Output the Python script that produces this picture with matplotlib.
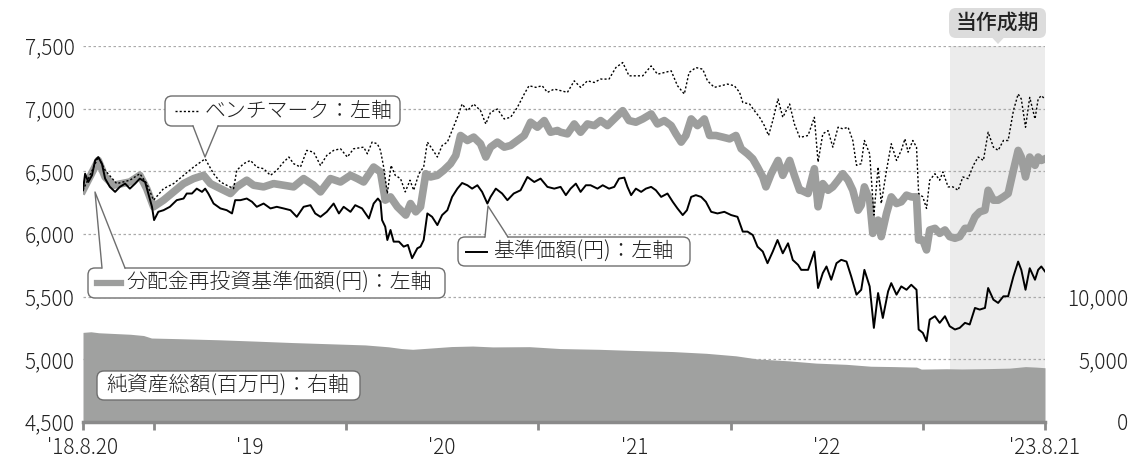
import matplotlib.pyplot as plt
import matplotlib.ticker as mticker
from matplotlib.patches import FancyBboxPatch, Polygon
from matplotlib.lines import Line2D
import pandas as pd

plt.rcParams['font.family'] = ['Noto Sans CJK JP', 'DejaVu Sans']
plt.rcParams['font.weight'] = 'light'

START = pd.Timestamp('2018-08-20')
END = pd.Timestamp('2023-08-21')
PERIOD_START = pd.Timestamp('2023-02-21')

# 基準価額 (days since START, yen)
nav_days = [0, 4, 10, 17, 23, 29, 36, 42, 51, 61, 70, 80, 89, 99, 108, 118, 124, 131, 135, 143,
            153, 165, 178, 191, 197, 207, 216, 226, 232, 238, 248, 261, 273, 283, 289, 299, 311,
            321, 330, 343, 356, 368, 381, 394, 406, 419, 432, 441, 451,
            463, 476, 486, 495, 508, 517, 530, 543, 552, 560, 565, 568, 574, 578, 584, 590, 600,
            609, 617, 625, 635, 641, 647, 654, 663, 673, 682, 692, 701, 711, 720, 730, 739, 749,
            758, 768, 774, 784, 796, 806, 818, 831, 844, 857, 869, 882, 895,
            907, 917, 926, 936, 945, 955, 964, 977, 987, 999, 1009, 1018, 1028, 1034, 1041, 1050,
            1060, 1069, 1079, 1088, 1098, 1110, 1120, 1129, 1139, 1147, 1155, 1164, 1174, 1183,
            1193, 1205, 1218, 1231, 1243, 1253, 1262, 1272, 1281, 1291, 1300, 1310, 1319, 1329,
            1339, 1348, 1358,
            1364, 1377, 1389, 1396, 1405, 1412, 1421, 1431, 1440, 1450, 1459, 1469, 1478, 1484,
            1494, 1502, 1510, 1519, 1529, 1535, 1545, 1554, 1564, 1573, 1583, 1587, 1595, 1602,
            1608, 1618, 1627, 1637, 1646, 1656, 1665, 1675, 1684, 1694, 1703, 1713, 1719, 1729,
            1738, 1748, 1757, 1767, 1776, 1782, 1790, 1798, 1808, 1814, 1820, 1827]
nav_yen = [6349, 6481, 6415, 6468, 6587, 6614, 6560, 6442, 6376, 6336, 6376, 6402, 6362, 6402, 6442,
           6415, 6323, 6217, 6111, 6177, 6190, 6217, 6270, 6283, 6323, 6323, 6362, 6336, 6362, 6323,
           6243, 6204, 6190, 6164, 6270, 6270, 6283, 6257, 6217, 6243, 6204, 6217, 6204, 6190, 6137,
           6217, 6230, 6164, 6137,
           6177, 6243, 6164, 6217, 6177, 6230, 6204, 6124, 6243, 6283, 6257, 6111, 6058, 5952, 6032,
           5939, 5939, 5899, 5913, 5807, 5886, 5899, 5952, 6164, 6137, 6071, 6151, 6190, 6296, 6362,
           6407, 6389, 6362, 6389, 6336, 6243, 6296, 6362, 6323, 6270, 6323, 6349, 6455, 6415, 6442,
           6376, 6362,
           6376, 6310, 6362, 6402, 6336, 6389, 6389, 6362, 6389, 6362, 6376, 6442, 6450, 6376, 6310,
           6362, 6336, 6362, 6376, 6349, 6296, 6323, 6257, 6204, 6151, 6190, 6296, 6310, 6296, 6257,
           6177, 6164, 6177, 6151, 6137, 6019, 6019, 5992, 5899, 5860, 5767, 5860, 5952, 5846, 5926,
           5793, 5754,
           5714, 5714, 5860, 5569, 5688, 5741, 5635, 5767, 5794, 5780, 5661, 5516, 5555, 5714, 5582,
           5251, 5529, 5330, 5542, 5608, 5516, 5582, 5555, 5595, 5555, 5238, 5211, 5145, 5317, 5344,
           5291, 5344, 5264, 5238, 5251, 5291, 5278, 5410, 5397, 5410, 5569, 5476, 5450, 5503, 5503,
           5661, 5780, 5714, 5555, 5727, 5635, 5714, 5741, 5701]

# 分配金再投資基準価額 (days since START, yen)
reinv_days = [0, 29, 42, 58, 89, 108, 121, 134, 153, 172, 191, 210, 229, 242, 261, 280, 292, 311,
              324, 343, 362, 381, 400, 419, 438, 451,
              470, 489, 508, 521, 533, 552, 565, 574, 584, 597, 613, 622, 632, 641, 651, 660, 673,
              685, 698, 708, 717, 730, 742, 755, 765, 774, 787, 800, 812, 825, 838, 850, 863, 876,
              888, 901,
              907, 920, 933, 945, 958, 971, 983, 996, 1009, 1025, 1037, 1050, 1063, 1079, 1091,
              1104, 1117, 1126, 1136, 1145, 1155, 1167, 1180, 1190, 1202, 1215, 1228, 1240, 1250,
              1262, 1272, 1281, 1291, 1297, 1307, 1320, 1329, 1342, 1351, 1361,
              1364, 1377, 1389, 1396, 1405, 1415, 1424, 1434, 1443, 1453, 1462, 1472, 1478, 1484,
              1494, 1500, 1510, 1516, 1526, 1535, 1545, 1554, 1564, 1573, 1583, 1587, 1595, 1602,
              1608, 1618, 1627, 1637, 1646, 1656, 1665, 1675, 1684, 1694, 1703, 1713, 1719, 1729,
              1738, 1748, 1757, 1767, 1776, 1782, 1790, 1798, 1808, 1814, 1820, 1827]
reinv_yen = [6349, 6587, 6455, 6389, 6415, 6468, 6362, 6217, 6270, 6336, 6402, 6442, 6468, 6402,
             6362, 6323, 6376, 6429, 6389, 6376, 6402, 6389, 6376, 6442, 6389, 6336,
             6442, 6415, 6468, 6442, 6415, 6534, 6495, 6270, 6296, 6217, 6151, 6243, 6177, 6217,
             6481, 6455, 6468, 6508, 6561, 6627, 6786, 6746, 6773, 6720, 6614, 6693, 6733, 6693,
             6706, 6746, 6786, 6892, 6852, 6905, 6812, 6826,
             6812, 6799, 6878, 6812, 6878, 6865, 6905, 6865, 6918, 6984, 6905, 6892, 6918, 6958,
             6878, 6905, 6865, 6799, 6733, 6786, 6918, 6865, 6918, 6786, 6786, 6773, 6759, 6786,
             6680, 6640, 6600, 6534, 6455, 6376, 6481, 6587, 6468, 6587, 6468, 6349,
             6349, 6323, 6521, 6217, 6402, 6349, 6376, 6429, 6481, 6429, 6349, 6190, 6230, 6376,
             6270, 6005, 6111, 5979, 6164, 6296, 6243, 6257, 6310, 6296, 6296, 5952, 5952, 5873,
             6032, 6045, 6005, 6032, 5979, 5966, 5979, 6045, 6045, 6138, 6177, 6190, 6349, 6270,
             6270, 6296, 6323, 6508, 6667, 6614, 6455, 6614, 6548, 6614, 6587, 6600]

# ベンチマーク (days since START, rebased to yen)
bench_days = [0, 29, 42, 64, 89, 108, 121, 134, 153, 172, 191, 210, 232, 248, 261, 273, 286, 292,
              305, 318, 330, 343, 356, 368, 381, 391, 400, 413, 425, 438, 451,
              463, 476, 489, 502, 514, 533, 540, 549, 559, 565, 571, 578, 585, 593, 603, 612, 621,
              628, 638, 647, 654, 663, 673, 682, 692, 701, 711, 720, 730, 742, 755, 765, 774, 787,
              800, 812, 825, 838, 847, 860, 872, 882, 895,
              907, 920, 933, 945, 958, 971, 983, 999, 1012, 1025, 1037, 1050, 1063, 1079, 1091,
              1104, 1117, 1129, 1142, 1151, 1164, 1177, 1186, 1199, 1212, 1224, 1237, 1247, 1253,
              1266, 1275, 1285, 1294, 1302, 1310, 1320, 1329, 1342, 1351, 1361,
              1364, 1377, 1389, 1396, 1405, 1415, 1424, 1434, 1443, 1453, 1462, 1469, 1478, 1484,
              1494, 1502, 1510, 1516, 1526, 1535, 1545, 1554, 1561, 1567, 1576, 1583, 1587, 1595,
              1602, 1608, 1618, 1627, 1633, 1643, 1652, 1662, 1671, 1681, 1691, 1700, 1710, 1719,
              1729, 1738, 1748, 1757, 1767, 1776, 1782, 1790, 1798, 1808, 1814, 1820, 1827]
bench_val = [6349, 6614, 6508, 6402, 6429, 6481, 6402, 6270, 6362, 6402, 6468, 6534, 6600, 6481,
             6415, 6389, 6362, 6508, 6561, 6587, 6534, 6521, 6468, 6508, 6574, 6614, 6561, 6534,
             6667, 6653, 6547,
             6627, 6667, 6680, 6614, 6680, 6693, 6640, 6733, 6720, 6667, 6534, 6323, 6547, 6468,
             6442, 6336, 6429, 6349, 6481, 6534, 6733, 6680, 6614, 6706, 6733, 6826, 6931, 7037,
             6984, 7037, 6984, 6878, 6971, 6997, 6918, 6931, 7011, 7117, 7183, 7170, 7183, 7130,
             7156,
             7144, 7130, 7222, 7170, 7222, 7209, 7236, 7236, 7328, 7368, 7262, 7262, 7262, 7341,
             7275, 7288, 7302, 7183, 7117, 7288, 7328, 7315, 7222, 7170, 7183, 7196, 7183, 7130,
             7050, 7037, 6984, 6931, 6865, 6786, 6905, 7077, 6931, 7037, 6878, 6773,
             6773, 6786, 6931, 6574, 6799, 6825, 6693, 6852, 6839, 6852, 6746, 6548, 6561, 6746,
             6640, 6151, 6534, 6243, 6508, 6720, 6587, 6667, 6759, 6653, 6746, 6693, 6323, 6296,
             6204, 6429, 6481, 6429, 6495, 6376, 6376, 6349, 6455, 6442, 6548, 6614, 6587, 6812,
             6693, 6667, 6746, 6746, 6984, 7117, 7077, 6852, 7090, 6918, 7077, 7104, 7077]

# 純資産総額 (days since START, million yen)
assets_days = [0, 15, 30, 50, 90, 115, 130, 180, 258, 330, 397, 470, 536, 580, 605, 626, 660, 700,
               740, 778, 848, 906, 980, 1045, 1120, 1184, 1240, 1281, 1340, 1392, 1450, 1496,
               1540, 1583, 1592, 1640, 1669, 1720, 1760, 1790, 1810, 1827]
assets_mil = [7150, 7200, 7120, 7080, 7000, 6900, 6700, 6650, 6560, 6450, 6340, 6240, 6150, 6000,
              5860, 5800, 5900, 6020, 6060, 5990, 6010, 5860, 5800, 5710, 5620, 5480, 5280, 5030,
              4880, 4700, 4600, 4450, 4420, 4380, 4220, 4250, 4230, 4260, 4300, 4420, 4380, 4330]

year_ticks = ['2019-01-01', '2020-01-01', '2021-01-01', '2022-01-01', '2023-01-01']
mid_ticks = ['2019-07-02', '2020-07-02', '2021-07-02', '2022-07-02']
mid_labels = ["'19", "'20", "'21", "'22"]


def to_dates(days):
    return START + pd.to_timedelta(days, unit='D')


W, H = 1132, 458
fig = plt.figure(figsize=(W / 100, H / 100), dpi=100)
ax_r = fig.add_axes([83 / W, 36 / H, 962 / W, 376 / H])
ax_l = ax_r.twinx()

# shaded period + net assets on the bottom (right scale) axes
ax_r.axvspan(PERIOD_START, END, color='#ececec', lw=0, zorder=0)
ax_r.fill_between(to_dates(assets_days), assets_mil, color='#a0a1a0', lw=0, zorder=1)
ax_r.set_ylim(0, 30000)
ax_r.set_yticks(range(0, 30001, 5000))
ax_r.yaxis.set_major_formatter(mticker.FuncFormatter(
    lambda v, p: f'{int(v):,}' if v <= 10000 else ''))
ax_r.yaxis.set_ticks_position('right')
ax_r.tick_params(axis='y', length=0, pad=60, labelsize=15, colors='#222222')
for lab in ax_r.get_yticklabels():
    lab.set_horizontalalignment('right')
ax_r.set_axisbelow(True)
ax_r.grid(axis='y', color='#aaaaaa', linestyle=(0, (2, 2)), lw=0.9)
ax_r.grid(axis='x', visible=False)

# price lines on the top (left scale) axes
ax_l.plot(to_dates(reinv_days), reinv_yen, color='#9d9e9d', lw=5.5,
          solid_joinstyle='round', zorder=2)
ax_l.plot(to_dates(bench_days), bench_val, color='black', lw=1.0,
          linestyle=(0, (1.5, 1.5)), zorder=3)
ax_l.plot(to_dates(nav_days), nav_yen, color='black', lw=1.4, zorder=4)
ax_l.set_ylim(4500, 7500)
ax_l.set_yticks(range(4500, 7501, 500))
ax_l.yaxis.set_major_formatter(mticker.FuncFormatter(lambda v, p: f'{int(v):,}'))
ax_l.yaxis.set_ticks_position('left')
ax_l.tick_params(axis='y', length=0, pad=6, labelsize=15, colors='#222222')

ax_r.set_xlim(START, END)
ax_r.xaxis.remove_overlapping_locs = False
ax_r.set_xticks([START] + [pd.Timestamp(d) for d in year_ticks] + [END])
ax_r.set_xticklabels(["'18.8.20", '', '', '', '', '', "'23.8.21"])
ax_r.set_xticks([pd.Timestamp(d) for d in mid_ticks], minor=True)
ax_r.set_xticklabels(mid_labels, minor=True)
ax_r.tick_params(axis='x', which='major', length=6, width=2, color='#8a8a8a',
                 pad=5, labelsize=15, labelcolor='#222222')
ax_r.tick_params(axis='x', which='minor', length=0, pad=11, labelsize=15, labelcolor='#222222')

for a in (ax_r, ax_l):
    for s in ('top', 'left', 'right', 'bottom'):
        a.spines[s].set_visible(False)
ax_r.spines['bottom'].set_visible(True)
ax_r.spines['bottom'].set_color('#8a8a8a')
ax_r.spines['bottom'].set_linewidth(2.5)


# ---- callouts (positions in image pixels, y from top) ----
def P(x, y):
    return (x / 100, (H - y) / 100)


T = fig.dpi_scale_trans
EDGE = '#6e6e6e'


def callout(x0, y0, x1, y1, text, tx, notch=None, fc='white', ec=EDGE, z=10, **kw):
    fig.add_artist(FancyBboxPatch(P(x0, y1), (x1 - x0) / 100, (y1 - y0) / 100,
                                  boxstyle='round,pad=0,rounding_size=0.07',
                                  fc=fc, ec=ec, lw=1.0, transform=T, zorder=z))
    if notch:
        bx1, bx2, by, px, py = notch
        inward = 1.5 if by <= y0 + 1 else -1.5
        fig.add_artist(Polygon([P(bx1, by + inward), P(px, py), P(bx2, by + inward)],
                               closed=True, fc=fc, ec='none', transform=T, zorder=z + 1))
        if ec != 'none':
            fig.add_artist(Line2D([P(bx1, by)[0], P(px, py)[0], P(bx2, by)[0]],
                                  [P(bx1, by)[1], P(px, py)[1], P(bx2, by)[1]],
                                  color=ec, lw=1.0, transform=T, zorder=z + 2))
    fig.text(*P(tx, (y0 + y1) / 2), text, transform=T, va='center', fontsize=15,
             color='#222222', zorder=z + 3, **kw)


callout(165, 96, 400, 126, 'ベンチマーク：左軸', 205, notch=(193, 218, 126, 205, 157))
fig.add_artist(Line2D([P(175, 111)[0], P(200, 111)[0]], [P(175, 111)[1], P(200, 111)[1]],
                      color='black', lw=1.0, linestyle=(0, (1.5, 1.5)), transform=T, zorder=14))

callout(88, 268, 445, 298, '分配金再投資基準価額(円)：左軸', 126, notch=(102, 125, 268, 95, 192))
fig.add_artist(Line2D([P(97, 283)[0], P(121, 283)[0]], [P(97, 283)[1], P(121, 283)[1]],
                      color='#9d9e9d', lw=4.5, transform=T, zorder=14))

callout(458, 237, 690, 266, '基準価額(円)：左軸', 493, notch=(485, 508, 237, 488, 206))
fig.add_artist(Line2D([P(466, 252)[0], P(487, 252)[0]], [P(466, 252)[1], P(487, 252)[1]],
                      color='black', lw=1.4, transform=T, zorder=14))

callout(97, 371, 360, 400, '純資産総額(百万円)：右軸', 106)

callout(949, 8, 1046, 38, '当作成期', 997.5, notch=(991, 1005, 38, 998, 44),
        fc='#dcdcdc', ec='none', ha='center', fontweight='medium')

fig.savefig('out.png', dpi=100)
